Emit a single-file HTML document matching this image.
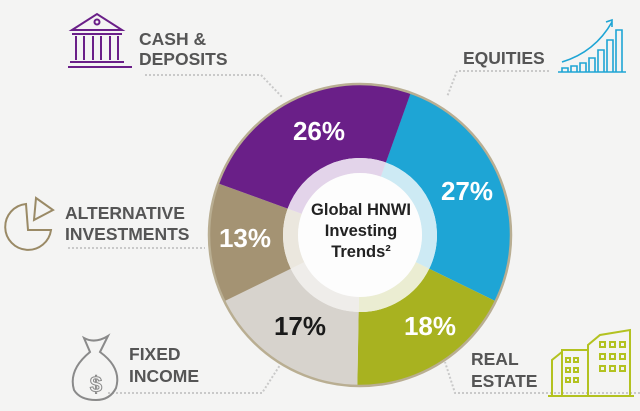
<!DOCTYPE html>
<html><head><meta charset="utf-8"><style>
html,body{margin:0;padding:0;background:#f4f4f3;}
svg{display:block}
text{font-family:"Liberation Sans",sans-serif;font-weight:bold;}
</style></head><body>
<svg width="640" height="411" viewBox="0 0 640 411" xmlns="http://www.w3.org/2000/svg">
<rect width="640" height="411" fill="#f4f4f3"/>
<g stroke="#c9c9c9" stroke-width="2" stroke-dasharray="2 2" fill="none">
<path d="M145 75 H261 L282 97"/>
<path d="M549 71 H457 L447 97"/>
<path d="M68 248 H205"/>
<path d="M108 393 H262 L282 362"/>
<path d="M640 393 H455 L445 362"/>
</g>
<g fill="none" stroke-width="74">
<circle cx="360" cy="235" r="114" stroke="#1ea5d5" stroke-dasharray="191.8 716.3" transform="rotate(-70.4 360 235)"/>
<circle cx="360" cy="235" r="114" stroke="#a8b220" stroke-dasharray="129.3 716.3" transform="rotate(26 360 235)"/>
<circle cx="360" cy="235" r="114" stroke="#d7d3cd" stroke-dasharray="125.4 716.3" transform="rotate(91 360 235)"/>
<circle cx="360" cy="235" r="114" stroke="#a49373" stroke-dasharray="91.5 716.3" transform="rotate(154 360 235)"/>
<circle cx="360" cy="235" r="114" stroke="#6a1f88" stroke-dasharray="178.3 716.3" transform="rotate(200 360 235)"/>
</g>
<g fill="none" stroke-width="15">
<circle cx="360" cy="235" r="69.5" stroke="#cdeaf4" stroke-dasharray="116.9 436.7" transform="rotate(-70.4 360 235)"/>
<circle cx="360" cy="235" r="69.5" stroke="#ebedd2" stroke-dasharray="78.8 436.7" transform="rotate(26 360 235)"/>
<circle cx="360" cy="235" r="69.5" stroke="#efedea" stroke-dasharray="76.4 436.7" transform="rotate(91 360 235)"/>
<circle cx="360" cy="235" r="69.5" stroke="#ebe7de" stroke-dasharray="55.8 436.7" transform="rotate(154 360 235)"/>
<circle cx="360" cy="235" r="69.5" stroke="#e3d4ea" stroke-dasharray="108.7 436.7" transform="rotate(200 360 235)"/>
</g>
<circle cx="360" cy="235" r="62" fill="#fdfdfd"/>
<circle cx="360" cy="235" r="151" fill="none" stroke="#b9ae92" stroke-width="2.5"/>
<g font-size="26" fill="#fff" text-anchor="middle">
<text x="319" y="140">26%</text>
<text x="467" y="200">27%</text>
<text x="245" y="247">13%</text>
<text x="300" y="335" fill="#1a1a1a">17%</text>
<text x="430" y="335">18%</text>
</g>
<g font-size="16.5" fill="#222" text-anchor="middle">
<text x="361" y="215">Global HNWI</text>
<text x="361" y="236">Investing</text>
<text x="361" y="257">Trends²</text>
</g>
<g font-size="17.5" fill="#555">
<text x="139" y="45">CASH &amp;</text>
<text x="139" y="65">DEPOSITS</text>
<text x="463" y="64">EQUITIES</text>
<text x="65" y="219">ALTERNATIVE</text>
<text x="65" y="240">INVESTMENTS</text>
<text x="129" y="360">FIXED</text>
<text x="129" y="382">INCOME</text>
<text x="471" y="365">REAL</text>
<text x="471" y="387">ESTATE</text>
</g>
<g stroke="#6a1f88" stroke-width="2" fill="none">
<path d="M72 30 L97 14 L122 30 Z"/>
<circle cx="97" cy="22" r="2.5"/>
<path d="M72 34 H122 M76 36 V60 M84 36 V60 M93 36 V60 M101 36 V60 M110 36 V60 M118 36 V60 M70 62 H124 M68 67 H132"/>
</g>
<g stroke="#1ea5d5" stroke-width="1.6" fill="none">
<path d="M558 72 H626"/>
<path d="M562 72 V68 H568 V72 M571 72 V66 H577 V72 M580 72 V63 H586 V72 M589 72 V58 H595 V72 M598 72 V50 H604 V72 M607 72 V40 H613 V72 M616 72 V30 H622 V72"/>
<path d="M562 62 Q595 52 612 22 M606 22 L612 20 L612 27"/>
</g>
<g stroke="#9a8a66" stroke-width="2" fill="none">
<path d="M28 202 A23 23 0 1 0 53 228 L30 228 Z" transform="translate(-2 2)"/>
<path d="M34 220 L36 198 L53 210 Z"/>
</g>
<g stroke="#8a8a8a" stroke-width="2" fill="none">
<path d="M84 338 Q95 344 108 336 L100 352 Q122 368 116 388 Q110 400 96 400 Q80 400 74 390 Q68 370 90 352 Z"/>
<text x="96" y="392" font-size="22" fill="none" stroke="#8a8a8a" stroke-width="1" text-anchor="middle">$</text>
</g>
<g stroke="#b3c220" stroke-width="2" fill="none">
<path d="M552 396 V360 L562 352 V396 M562 396 V350 H588 V396 M588 396 V345 L600 335 L630 330 V396 M548 396 H634"/>
<path d="M566 358 h4 v4 h-4z M574 358 h4 v4 h-4z M566 368 h4 v4 h-4z M574 368 h4 v4 h-4z M566 378 h4 v4 h-4z M574 378 h4 v4 h-4z"/>
<path d="M600 342 h5 v5 h-5z M610 342 h5 v5 h-5z M620 342 h5 v5 h-5z M600 354 h5 v5 h-5z M610 354 h5 v5 h-5z M620 354 h5 v5 h-5z M600 366 h5 v5 h-5z M610 366 h5 v5 h-5z M620 366 h5 v5 h-5z"/>
</g>
</svg>
</body></html>
